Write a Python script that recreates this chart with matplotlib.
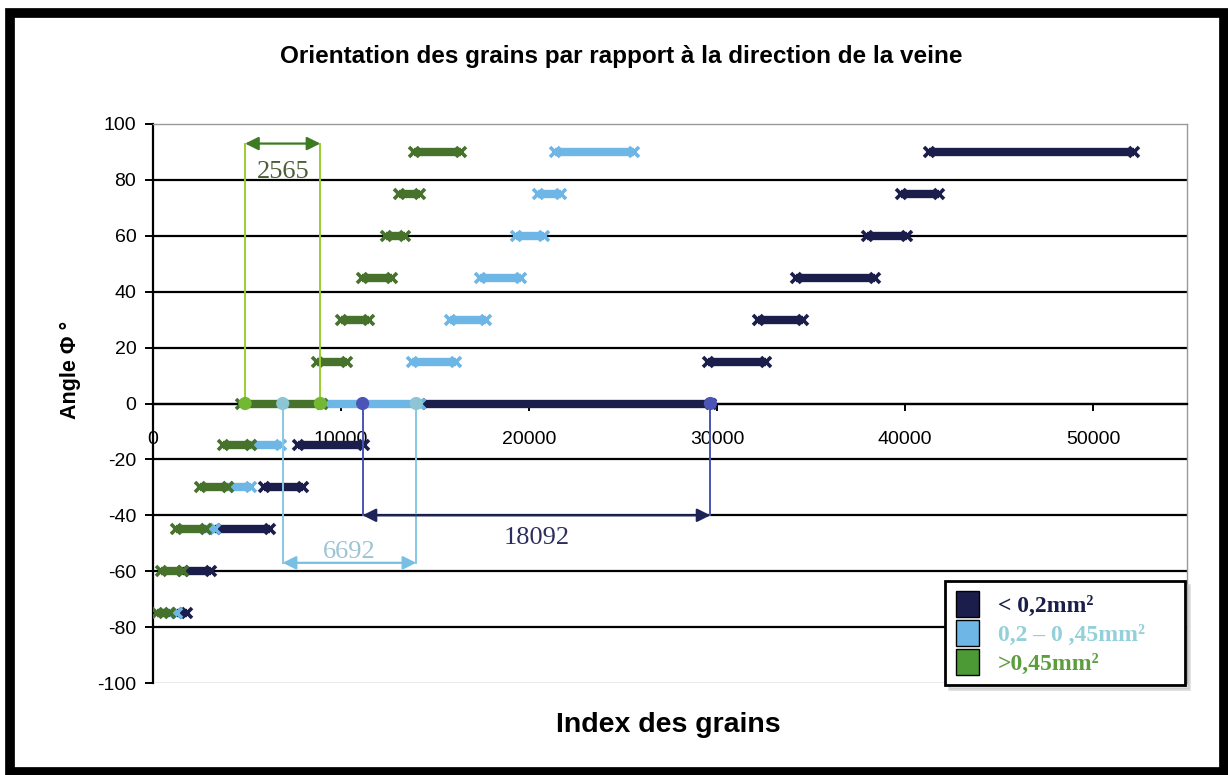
import matplotlib
matplotlib.use('Agg')
import matplotlib.pyplot as plt
from matplotlib.patches import Patch, Rectangle

# grain classes, each one a set of runs: (angle, first index, last index)
angles = [-75, -60, -45, -30, -15, 0, 15, 30, 45, 60, 75, 90]

small_start = [1300, 1600, 3300, 5900, 7700, 14200, 29500, 32200, 34200, 38000, 39800, 41300]
small_end = [1800, 3100, 6200, 8000, 11200, 29700, 32600, 34600, 38400, 40100, 41800, 52200]

mid_angles = [-75, -45, -30, -15, 0, 15, 30, 45, 60, 75, 90]
mid_start = [900, 2800, 4000, 5200, 9000, 13800, 15800, 17400, 19300, 20500, 21400]
mid_end = [1300, 3300, 5200, 6800, 14200, 16100, 17700, 19600, 20800, 21700, 25600]

large_start = [200, 400, 1200, 2500, 3700, 4700, 8700, 10000, 11100, 12400, 13100, 13900]
large_end = [900, 1600, 2800, 4000, 5200, 9000, 10300, 11500, 12700, 13400, 14200, 16400]

# extent of the 0 degree run of each class and the grain count written under it
span_green = [4900, 8900]
span_blue = [6900, 14000]
span_navy = [11150, 29650]
count_green = 2565
count_blue = 6692
count_navy = 18092

legend_labels = ['< 0,2mm²', '0,2 – 0 ,45mm²', '>0,45mm²']

NAVY = '#1b1e4b'
BLUE = '#6db6e6'
GREEN = '#46722c'

plt.rcParams['axes.unicode_minus'] = False

sans = ['Liberation Sans', 'DejaVu Sans']
serif = ['Liberation Serif', 'DejaVu Serif']

fig = plt.figure(figsize=(12.28, 7.75), dpi=100)
ax = fig.add_axes([153 / 1228, 1 - 683 / 775, 1034 / 1228, 559 / 775])

ax.set_xlim(0, 55000)
ax.set_ylim(-100, 100)

for lvl in range(-80, 100, 20):
    ax.axhline(lvl, color='black', lw=1.6, zorder=1)
ax.axhline(-100, color='0.6', lw=1, zorder=1)


def draw_runs(ys, starts, ends, color):
    for a, s, e in zip(ys, starts, ends):
        ax.plot([s, e], [a, a], color=color, lw=6, solid_capstyle='butt',
                marker='x', ms=6.5, mew=2.6, zorder=3)


draw_runs(angles, small_start, small_end, NAVY)
draw_runs(mid_angles, mid_start, mid_end, BLUE)
draw_runs(angles, large_start, large_end, GREEN)


def bracket(xs, y_arrow, count, y_text, line_c, arrow_c, dot_c, text_c):
    for x in xs:
        ax.plot([x, x], [0, y_arrow], color=line_c, lw=1.4, zorder=4)
    ax.annotate('', xy=(xs[1], y_arrow), xytext=(xs[0], y_arrow),
                arrowprops=dict(arrowstyle='<|-|>', color=arrow_c, lw=1.6,
                                mutation_scale=20, shrinkA=0, shrinkB=0), zorder=5)
    ax.scatter(xs, [0, 0], s=90, color=dot_c, zorder=6, edgecolors='none')
    ax.text(sum(xs) / 2, y_text, str(count), ha='center', va='center',
            fontsize=19, color=text_c, family=serif, zorder=6)


bracket(span_green, 93, count_green, 83, '#9acd32', '#3e7a22', '#72b832', '#4b5e35')
bracket(span_blue, -57, count_blue, -53, '#86c8e4', '#78bfe6', '#8ec5d4', '#9cc4d4')
bracket(span_navy, -40, count_navy, -48, '#4a55b5', '#1d2457', '#4a55b5', '#2b2f5e')

# axes styling
ax.spines['left'].set_linewidth(1.6)
ax.spines['bottom'].set_position(('data', 0))
ax.spines['bottom'].set_linewidth(1.6)
for side in ('top', 'right'):
    ax.spines[side].set_color('0.6')
    ax.spines[side].set_linewidth(1)

ax.set_xticks(range(0, 60000, 10000))
ax.set_yticks(range(-100, 120, 20))
ax.tick_params(axis='y', direction='out', length=6, width=1.4, pad=6, labelsize=14)
ax.tick_params(axis='x', direction='out', length=5, width=1.4, pad=15, labelsize=14)
for lab in ax.get_xticklabels() + ax.get_yticklabels():
    lab.set_family(sans)

fig.text(621 / 1228, 1 - 57 / 775,
         'Orientation des grains par rapport à la direction de la veine',
         ha='center', va='center', fontsize=17.5, fontweight='bold', family=sans)
fig.text(70 / 1228, 1 - 370 / 775, 'Angle Φ °', rotation=90, ha='center', va='center',
         fontsize=15.5, fontweight='bold', family=sans)
fig.text(668 / 1228, 1 - 725 / 775, 'Index des grains', ha='center', va='center',
         fontsize=20.5, fontweight='bold', family=sans)

handles = [Patch(facecolor=c, edgecolor='black', lw=1) for c in (NAVY, BLUE, '#4c9a36')]
leg = ax.legend(handles, legend_labels, loc='lower left',
                bbox_to_anchor=(0.766, -0.004, 0.232, 0.194), mode='expand',
                frameon=True, fancybox=False, edgecolor='black', framealpha=1,
                shadow={'ox': 3, 'oy': -3, 'color': '0.75'},
                handlelength=1.0, handleheight=1.3, handletextpad=0.8,
                labelspacing=0.13, borderpad=0.45, borderaxespad=0,
                labelcolor=[NAVY, '#93d0da', '#5c9e3e'],
                prop={'family': serif, 'weight': 'bold', 'size': 17})
leg.get_frame().set_linewidth(2)
leg.set_zorder(10)

# black frame round the whole chart
fig.patches.append(Rectangle((10 / 1228, 3 / 775), 1214 / 1228, 759 / 775,
                             transform=fig.transFigure, fill=False,
                             edgecolor='black', lw=7))

fig.savefig('out.png', dpi=100)
